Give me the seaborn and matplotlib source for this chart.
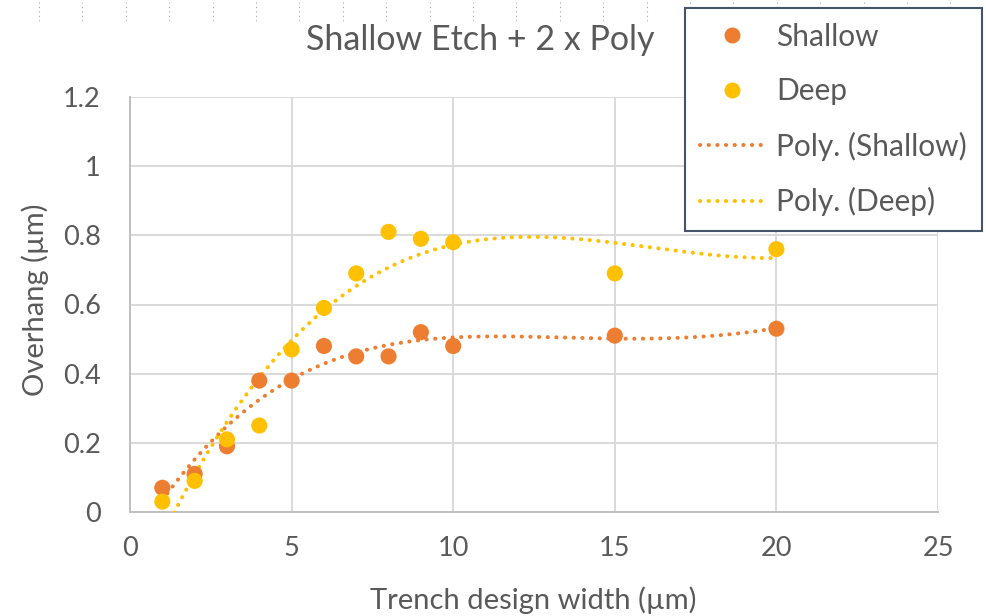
import numpy as np
import pandas as pd
import matplotlib
matplotlib.use("Agg")
import matplotlib.pyplot as plt
from matplotlib.lines import Line2D
import seaborn as sns

# Trench design widths (µm) and measured overhang (µm)
widths = [1, 2, 3, 4, 5, 6, 7, 8, 9, 10, 15, 20]
shallow = [0.07, 0.11, 0.19, 0.38, 0.38, 0.48, 0.45, 0.45, 0.52, 0.48, 0.51, 0.53]
deep = [0.03, 0.09, 0.21, 0.25, 0.47, 0.59, 0.69, 0.81, 0.79, 0.78, 0.69, 0.76]

series_names = ["Shallow", "Deep"]
series_colors = ["#ED7D31", "#FFC000"]
poly_orders = [4, 3]
x_ticks = [0, 5, 10, 15, 20, 25]
y_ticks = [0, 0.2, 0.4, 0.6, 0.8, 1.0, 1.2]
y_tick_labels = ["0", "0.2", "0.4", "0.6", "0.8", "1", "1.2"]

sns.set_theme(style="white")
plt.rcParams["font.family"] = ["Lato", "DejaVu Sans"]
text_color = "#595959"
grid_color = "#D9D9D9"
dot_style = (0, (0.05, 2.1))
dot_lw = 2.9

df = pd.DataFrame({
    "width": widths * 2,
    "overhang": shallow + deep,
    "series": ["Shallow"] * len(widths) + ["Deep"] * len(widths),
})

W, H = 986, 616
fig = plt.figure(figsize=(W / 100, H / 100), dpi=100)
ax = fig.add_axes([130 / W, 1 - 512 / H, (938 - 130) / W, (512 - 97) / H])

# Polynomial trendlines across the measured range
xs = np.linspace(min(widths), max(widths), 300)
for name, col, order in zip(series_names, series_colors, poly_orders):
    sub = df[df["series"] == name]
    coef = np.polyfit(sub["width"], sub["overhang"], order)
    ax.plot(xs, np.polyval(coef, xs), color=col, lw=dot_lw,
            linestyle=dot_style, dash_capstyle="round", zorder=3)

sns.scatterplot(data=df, x="width", y="overhang", hue="series",
                hue_order=series_names, palette=series_colors,
                s=135, linewidth=0, ax=ax, legend=False, zorder=4)

ax.set_xlim(0, 25)
ax.set_ylim(0, 1.2)
ax.set_xticks(x_ticks)
ax.set_yticks(y_ticks)
ax.set_yticklabels(y_tick_labels)
ax.tick_params(axis="both", length=0, labelsize=19.5, labelcolor=text_color)
ax.tick_params(axis="x", pad=17)
ax.tick_params(axis="y", pad=21)
ax.grid(True, color=grid_color, lw=1.4)
ax.set_axisbelow(True)
for side in ["top", "right"]:
    ax.spines[side].set_visible(False)
for side in ["left", "bottom"]:
    ax.spines[side].set_color("#BFBFBF")
    ax.spines[side].set_linewidth(1.4)

ax.set_xlabel("Trench design width (µm)", fontsize=21, color=text_color, va="center")
ax.set_ylabel("Overhang (µm)", fontsize=21, color=text_color, va="center")
ax.xaxis.set_label_coords((533 - 130) / 808, (512 - 600) / 415)
ax.yaxis.set_label_coords((35 - 130) / 808, (512 - 300) / 415)
fig.text(480 / W, 1 - 40 / H, "Shallow Etch + 2 x Poly", ha="center", va="center",
         fontsize=24.5, color=text_color)

# Faint dotted cell markers along the top edge
for i in range(22):
    px = 39 + 43.4 * i
    fig.add_artist(Line2D([px / W, px / W], [1 - 2 / H, 1 - 21 / H],
                          color="#A6A6A6", lw=0.8, linestyle=(0, (1, 3)), zorder=0))

handles = [
    Line2D([], [], marker="o", linestyle="none", markersize=11.5,
           markerfacecolor=series_colors[0], markeredgewidth=0),
    Line2D([], [], marker="o", linestyle="none", markersize=11.5,
           markerfacecolor=series_colors[1], markeredgewidth=0),
    Line2D([], [], color=series_colors[0], lw=dot_lw, linestyle=dot_style,
           dash_capstyle="round"),
    Line2D([], [], color=series_colors[1], lw=dot_lw, linestyle=dot_style,
           dash_capstyle="round"),
]
labels = ["Shallow", "Deep", "Poly. (Shallow)", "Poly. (Deep)"]
leg = fig.legend(handles, labels, loc="upper right",
                 bbox_to_anchor=(982 / W, 1 - 8 / H), fontsize=21.5,
                 frameon=True, fancybox=False, handlelength=2.1,
                 handletextpad=0.45, labelspacing=0.88, borderpad=0.5,
                 borderaxespad=0)
leg.get_frame().set_edgecolor("#44546A")
leg.get_frame().set_linewidth(1.5)
leg.get_frame().set_alpha(1)
leg.set_zorder(10)
for t in leg.get_texts():
    t.set_color(text_color)

fig.savefig("out.png", dpi=100)
